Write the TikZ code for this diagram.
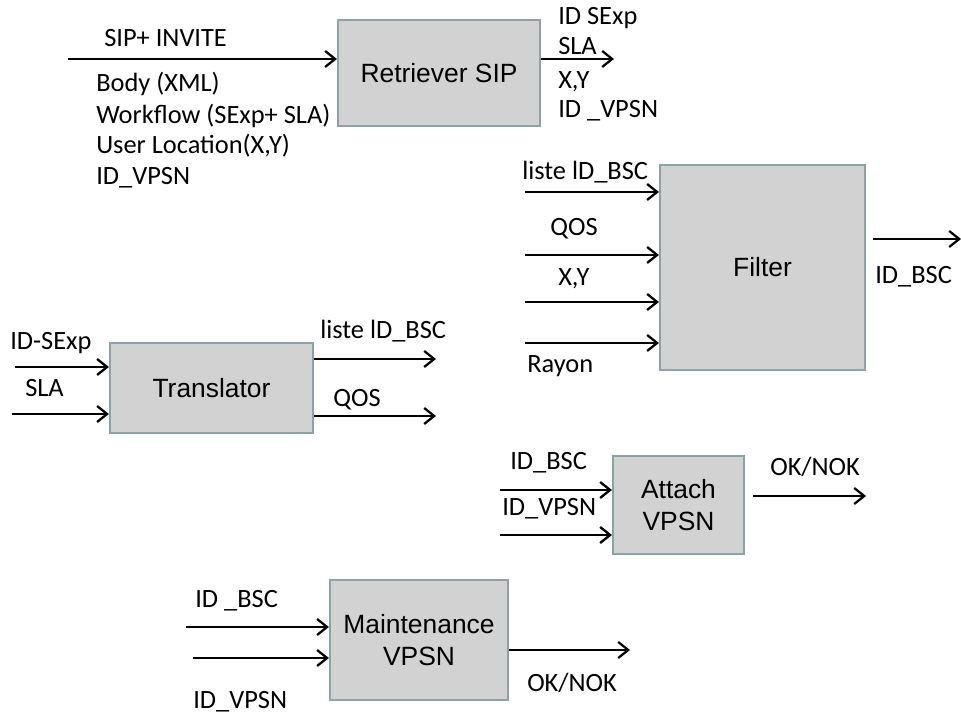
\documentclass[tikz,border=0pt]{standalone}
\usepackage{fontspec}
\setmainfont{Carlito}
\newfontfamily\boxfont{Liberation Sans}
\usetikzlibrary{arrows.meta}
\definecolor{boxfill}{RGB}{210,210,210}
\definecolor{boxline}{RGB}{140,162,166}
\tikzset{
  blk/.style={draw=boxline, line width=1.6pt, fill=boxfill, inner sep=0pt,
    font=\boxfont\fontsize{19.8}{24}\selectfont, align=center},
  lbl/.style={anchor=base west, inner sep=0pt, font=\fontsize{19.8}{23}\selectfont},
  arr/.style={line width=1.8pt, -{Straight Barb[length=7.5pt,width=12pt,line width=1.7pt]}}
}
\begin{document}
\begin{tikzpicture}[x=0.75pt,y=-0.75pt]
\useasboundingbox (0,0) rectangle (961,716);
% boxes
\node[blk, minimum width=151.5pt, minimum height=79.5pt] (ret) at (439,73) {Retriever SIP};
\node[blk, minimum width=153.75pt, minimum height=153.75pt] (fil) at (762.5,267.5) {Filter};
\node[blk, minimum width=152.25pt, minimum height=67.5pt] (tra) at (211.5,388) {Translator};
\node[blk, minimum width=98.25pt, minimum height=73.5pt] (att) at (678.5,505) {Attach\\VPSN};
\node[blk, minimum width=133.5pt, minimum height=90pt] (mai) at (419,640) {Maintenance\\VPSN};
% Retriever
\coordinate (rin) at (68,59);
\coordinate (rout) at (614,59);
\draw[arr] (rin) -- (rin -| ret.west);
\draw[arr] (rout -| ret.east) -- (rout);
\node[lbl] (l1) at (104,47) {SIP+ INVITE};
\node[lbl] (l2) at (96,92) {Body (XML)};
\node[lbl] (l3) at (96,124) {Workflow (SExp+ SLA)};
\node[lbl] (l4) at (96,154) {User Location(X,Y)};
\node[lbl] (l5) at (96,185) {ID\_VPSN};
\node[lbl] (r1) at (558,25) {ID SExp};
\node[lbl] (r2) at (558,55) {SLA};
\node[lbl] (r3) at (558,89) {X,Y};
\node[lbl] (r4) at (558,118) {ID \_VPSN};
% Filter
\coordinate (fa) at (525,192);
\coordinate (fb) at (525,255);
\coordinate (fc) at (525,302);
\coordinate (fd) at (525,343);
\coordinate (fo) at (961,239);
\draw[arr] (fa) -- (fa -| fil.west);
\draw[arr] (fb) -- (fb -| fil.west);
\draw[arr] (fc) -- (fc -| fil.west);
\draw[arr] (fd) -- (fd -| fil.west);
\draw[arr] ([xshift=5.25pt]fo -| fil.east) -- (fo);
\node[lbl] (f1) at (522,180) {liste lD\_BSC};
\node[lbl] (f2) at (550,236) {QOS};
\node[lbl] (f3) at (558,286) {X,Y};
\node[lbl] (f4) at (527,373) {Rayon};
\node[lbl] (f5) at (875,284) {ID\_BSC};
% Translator
\coordinate (ta) at (15,367);
\coordinate (tb) at (12,414);
\coordinate (tc) at (436,359);
\coordinate (td) at (436,416);
\draw[arr] (ta) -- (ta -| tra.west);
\draw[arr] (tb) -- (tb -| tra.west);
\draw[arr] (tc -| tra.east) -- (tc);
\draw[arr] (td -| tra.east) -- (td);
\node[lbl] (t1) at (10,350) {ID-SExp};
\node[lbl] (t2) at (25,397) {SLA};
\node[lbl] (t3) at (320,339) {liste lD\_BSC};
\node[lbl] (t4) at (333,407) {QOS};
% Attach
\coordinate (aa) at (500,490);
\coordinate (ab) at (500,535);
\coordinate (ao) at (866,496);
\draw[arr] (aa) -- (aa -| att.west);
\draw[arr] (ab) -- (ab -| att.west);
\draw[arr] ([xshift=6pt]ao -| att.east) -- (ao);
\node[lbl] (a1) at (510,470) {ID\_BSC};
\node[lbl] (a2) at (502,516) {ID\_VPSN};
\node[lbl] (a3) at (770,476) {OK/NOK};
% Maintenance
\coordinate (ma) at (186,627);
\coordinate (mb) at (193,658);
\coordinate (mo) at (630,650);
\draw[arr] (ma) -- (ma -| mai.west);
\draw[arr] (mb) -- (mb -| mai.west);
\draw[arr] (mo -| mai.east) -- (mo);
\node[lbl] (m1) at (195,608) {ID \_BSC};
\node[lbl] (m2) at (193,708) {ID\_VPSN};
\node[lbl] (m3) at (527,691) {OK/NOK};
\end{tikzpicture}
\end{document}
